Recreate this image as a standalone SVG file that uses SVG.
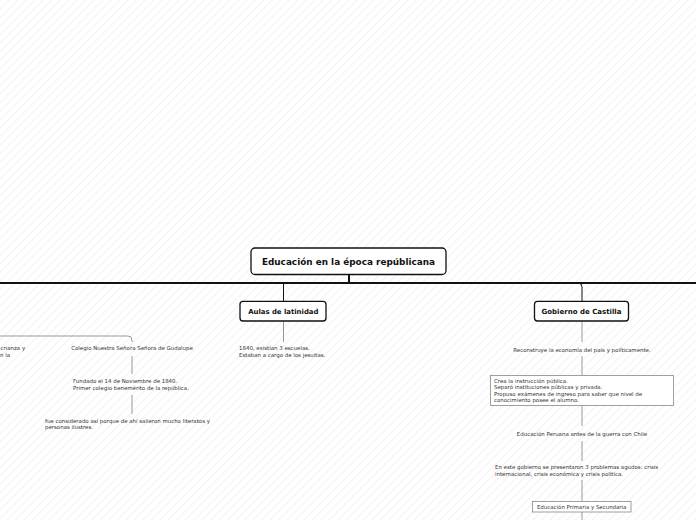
<svg xmlns="http://www.w3.org/2000/svg" width="696" height="520" viewBox="0 0 696 520">
<defs>
<pattern id="bg" width="6" height="6" patternUnits="userSpaceOnUse" patternTransform="rotate(45)">
<rect width="6" height="6" fill="#ffffff"/>
<line x1="0.5" y1="0" x2="0.5" y2="6" stroke="#f3f3f3" stroke-width="1.2"/>
</pattern>
</defs>
<style>
.main{fill:#fff;stroke:#111;stroke-width:1.3}
.sub{fill:#fff;stroke:#888;stroke-width:0.8}
.t{font-family:"DejaVu Sans",Verdana,sans-serif;font-size:5.45px;fill:#333}
.b{font-family:"DejaVu Sans",Verdana,sans-serif;font-weight:bold;fill:#111}
.c{fill:none;stroke:#999;stroke-width:1}
.k{fill:none;stroke:#111}
</style>
<rect width="696" height="520" fill="url(#bg)"/>
<g id="connectors">
<line class="k" x1="0" y1="283" x2="696" y2="283" stroke-width="2"/>
<line class="k" x1="349" y1="275" x2="349" y2="283" stroke-width="2"/>
<path class="k" d="M283.5 283 L283.5 301" stroke-width="1"/>
<path class="k" d="M578 283 Q582 283 582 287 L582 301" stroke-width="1"/>
<line class="c" x1="283.5" y1="321" x2="283.5" y2="342"/>
<path class="c" d="M0 336 L128 336 Q132 336 132 340 L132 342"/>
<line class="c" x1="132" y1="356" x2="132" y2="374"/>
<line class="c" x1="132" y1="395" x2="132" y2="414"/>
<line class="c" x1="582" y1="321" x2="582" y2="342"/>
<line class="c" x1="582" y1="356" x2="582" y2="375.5"/>
<line class="c" x1="582" y1="405.5" x2="582" y2="426"/>
<line class="c" x1="582" y1="441" x2="582" y2="461"/>
<line class="c" x1="582" y1="480" x2="582" y2="501.5"/>
<line class="c" x1="582" y1="512" x2="582" y2="520"/>
</g>
<g id="root">
<rect class="main" x="251" y="248" width="195" height="26.5" rx="4"/>
<text class="b" x="348.5" y="264.5" font-size="8.9" text-anchor="middle">Educación en la época repúblicana</text>
</g>
<g id="aulas">
<rect class="main" x="240" y="301.3" width="86" height="19.7" rx="3"/>
<text class="b" x="283.3" y="313.6" font-size="6.9" text-anchor="middle">Aulas de latinidad</text>
</g>
<g id="aulas-text">
<text class="t"><tspan x="239" y="350">1840, existían 3 escuelas.</tspan><tspan x="239" y="357.4">Estaban a cargo de los jesuitas.</tspan></text>
</g>
<g id="castilla">
<rect class="main" x="534.5" y="301.3" width="94" height="19.7" rx="3"/>
<text class="b" x="581.5" y="313.6" font-size="7" text-anchor="middle">Gobierno de Castilla</text>
</g>
<g id="reconstruye">
<text class="t" x="582" y="351.8" text-anchor="middle">Reconstruye la economía del país y políticamente.</text>
</g>
<g id="crea">
<rect class="sub" x="490.5" y="375.5" width="183" height="30"/>
<text class="t"><tspan x="494" y="383.2">Crea la instrucción pública.</tspan><tspan x="494" y="388.7">Separó instituciones públicas y privada.</tspan><tspan x="494" y="396.2">Propuso exámenes de ingreso para saber que nivel de</tspan><tspan x="494" y="401.9">conocimiento posee el alumno.</tspan></text>
</g>
<g id="peruana">
<text class="t" x="582" y="436" text-anchor="middle">Educación Peruana antes de la guerra con Chile</text>
</g>
<g id="problemas">
<text class="t"><tspan x="495" y="469">En este gobierno se presentaron 3 problemas agudos: crisis</tspan><tspan x="495" y="476.2">internacional, crisis económica y crisis política.</tspan></text>
</g>
<g id="primaria">
<rect class="sub" x="532.5" y="501.5" width="98.5" height="10.5"/>
<text class="t" x="581.7" y="508.7" text-anchor="middle">Educación Primaria y Secundaria</text>
</g>
<g id="colegio">
<text class="t" x="132" y="350.2" text-anchor="middle">Colegio Nuestra Señora Señora de Gudalupe</text>
</g>
<g id="fundado">
<text class="t"><tspan x="73" y="383">Fundado el 14 de Noviembre de 1840.</tspan><tspan x="73" y="390">Primer colegio benemérito de la república.</tspan></text>
</g>
<g id="considerado">
<text class="t"><tspan x="45" y="423.2">fue considerado así porque de ahí salieron mucho literatos y</tspan><tspan x="45" y="429">personas ilustres.</tspan></text>
</g>
<g id="left-node">
<text class="t"><tspan x="0.5" y="350.2">crianza y</tspan><tspan x="0" y="357.4">n la</tspan></text>
</g>
</svg>
